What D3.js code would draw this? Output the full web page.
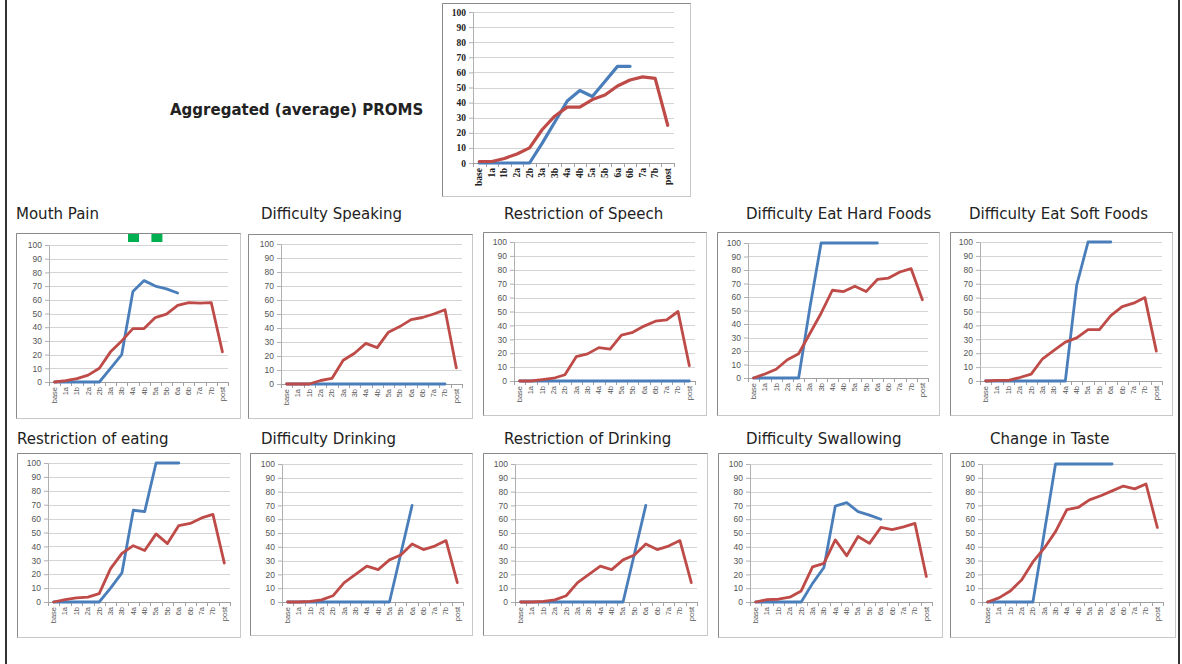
<!DOCTYPE html>
<html>
<head>
<meta charset="utf-8">
<script src="https://cdn.jsdelivr.net/npm/d3@7"></script>
<style>
  html, body { margin: 0; padding: 0; background: #ffffff; }
  svg { display: block; }
</style>
</head>
<body>
<svg id="chart" width="1182" height="664"></svg>
<script>
// ---------------- DATA ----------------
const categories = ["base","1a","1b","2a","2b","3a","3b","4a","4b","5a","5b","6a","6b","7a","7b","post"];
const yTicks = [0,10,20,30,40,50,60,70,80,90,100];

const aggregatedBlue = [0,0,0,0,0,13,27,41,48,44,54,64,64,null,null,null];
const aggregatedRed  = [1,1,3,6,10,22,31,37,37,42,45,51,55,57,56,25];

const mouthPainBlue = [0,0,0,0,0,10,20,66,74,70,68,65,null,null,null,null];
const mouthPainRed  = [0,1,2.5,5,10,22,30,39,39,47,49.5,56,58,57.5,58,22];

const speakingBlue = [0,0,0,0,0,0,0,0,0,0,0,0,0,0,0,null];
const speakingRed  = [0,0,0,2.5,4,17,22,29,26,37,41,46,47.5,50,53,11.5];

const speechRestrBlue = [0,0,0,0,0,0,0,0,0,0,0,0,0,0,0,0];
const speechRestrRed  = [0,0,1,2,4.5,17.5,19.5,24,23,33,35,39.5,43,44,50,11];

const hardFoodsBlue = [0,0,0,0,0,52,100,100,100,100,100,100,null,null,null,null];
const hardFoodsRed  = [0,3,6.5,13.5,18,33,48,65,64,68,64,73,74,78.5,81,58];

const softFoodsBlue = [0,0,0,0,0,0,0,0,69,100,100,100,null,null,null,null];
const softFoodsRed  = [0,0.5,0.5,2.5,5,16,22,28,31,37,37,47,53.5,56,60,21.5];

const eatingRestrBlue = [0,0,0,0,0,10,21,66,65,100,100,100,null,null,null,null];
const eatingRestrRed  = [0,1.7,3,3.5,6,24,35,40.5,37,49,42,55,56.5,60.5,63,28];

const drinkingBlue = [0,0,0,0,0,0,0,0,0,0,35,70,null,null,null,null];
const drinkingRed  = [0,0,0.5,1.5,4.5,14,20,26,23.5,30.5,34,42,38,40.5,44.5,14];

const drinkingRestrBlue = [0,0,0,0,0,0,0,0,0,0,35,70,null,null,null,null];
const drinkingRestrRed  = [0,0,0.5,1.5,4.5,14,20,26,23.5,30.5,34,42,38,40.5,44.5,14];

const swallowingBlue = [0,0,0,0,0,13.5,25,69.5,72,65.5,63,60,null,null,null,null];
const swallowingRed  = [0,1.7,2,3.5,8,25.5,28,45,33.5,47.5,42.5,54,52.5,54.5,57,18.5];

const tasteBlue = [0,0,0,0,0,50,100,100,100,100,100,100,null,null,null,null];
const tasteRed  = [0,3,8,16,29,39,51,67,68.5,74,77,80.5,84,82,85.5,54];

// ---------------- LAYOUT ----------------
const BLUE = "#4a7ebb", RED = "#be4b48";
const svg = d3.select("#chart");

// page side rules
svg.append("line").attr("x1",6).attr("x2",6).attr("y1",0).attr("y2",664).attr("stroke","#333").attr("stroke-width",2);
svg.append("line").attr("x1",1179).attr("x2",1179).attr("y1",0).attr("y2",664).attr("stroke","#333").attr("stroke-width",2);

const smallStyle = {
  tickFont: "'Liberation Sans', Arial, sans-serif", tickSize: 8.5, tickWeight: "normal", tickColor: "#555",
  xFont: "'Liberation Sans', Arial, sans-serif", xSize: 7.5, xWeight: "normal", xColor: "#555",
  lineWidth: 2.8
};
const bigStyle = {
  tickFont: "'Liberation Serif', 'Times New Roman', serif", tickSize: 9.5, tickWeight: "bold", tickColor: "#222",
  xFont: "'Liberation Serif', 'Times New Roman', serif", xSize: 9.5, xWeight: "bold", xColor: "#222",
  lineWidth: 3.2
};

const panels = [
  {title:"Aggregated (average) PROMS", tx:170, ty:115, bold:true,
   frame:[442,3,248,193], plot:{l:31,t:9,r:16,b:33}, blue:aggregatedBlue, red:aggregatedRed, style:bigStyle},
  {title:"Mouth Pain", tx:16, ty:219, frame:[16,233,224,185], plot:{l:33,t:12,r:12,b:36}, blue:mouthPainBlue, red:mouthPainRed, style:smallStyle, marks:true},
  {title:"Difficulty Speaking", tx:261, ty:219, frame:[248,234,224,184], plot:{l:33,t:10,r:10,b:34}, blue:speakingBlue, red:speakingRed, style:smallStyle},
  {title:"Restriction of Speech", tx:504, ty:219, frame:[483,232,223,183], plot:{l:31,t:10,r:11,b:34}, blue:speechRestrBlue, red:speechRestrRed, style:smallStyle},
  {title:"Difficulty Eat Hard Foods", tx:746, ty:219, frame:[717,232,222,183], plot:{l:31,t:11,r:11,b:37}, blue:hardFoodsBlue, red:hardFoodsRed, style:smallStyle},
  {title:"Difficulty Eat Soft Foods", tx:969, ty:219, frame:[950,232,222,183], plot:{l:30,t:10,r:10,b:34}, blue:softFoodsBlue, red:softFoodsRed, style:smallStyle},
  {title:"Restriction of eating", tx:17, ty:444, frame:[17,453,223,184], plot:{l:31,t:10,r:10,b:35}, blue:eatingRestrBlue, red:eatingRestrRed, style:smallStyle},
  {title:"Difficulty Drinking", tx:261, ty:444, frame:[250,453,222,182], plot:{l:32,t:11,r:9,b:33}, blue:drinkingBlue, red:drinkingRed, style:smallStyle},
  {title:"Restriction of Drinking", tx:504, ty:444, frame:[483,453,224,182], plot:{l:32,t:11,r:10,b:33}, blue:drinkingRestrBlue, red:drinkingRestrRed, style:smallStyle},
  {title:"Difficulty Swallowing", tx:746, ty:444, frame:[718,453,224,184], plot:{l:32,t:11,r:10,b:35}, blue:swallowingBlue, red:swallowingRed, style:smallStyle},
  {title:"Change in Taste", tx:990, ty:444, frame:[950,453,225,184], plot:{l:32,t:11,r:12,b:35}, blue:tasteBlue, red:tasteRed, style:smallStyle}
];

panels.forEach(p => {
  const [fx, fy, fw, fh] = p.frame;
  const st = p.style;

  // title
  svg.append("text")
    .attr("x", p.tx).attr("y", p.ty)
    .attr("font-family", "'DejaVu Sans', Verdana, sans-serif")
    .attr("font-size", 15)
    .attr("font-weight", p.bold ? "bold" : "normal")
    .attr("fill", "#222")
    .text(p.title);

  // frame
  svg.append("rect").attr("x", fx + 0.5).attr("y", fy + 0.5).attr("width", fw).attr("height", fh)
    .attr("fill", "#fff").attr("stroke", "#c8c8c8");
  svg.append("path")
    .attr("d", `M${fx+0.5},${fy+fh+0.5}V${fy+0.5}H${fx+fw+0.5}`)
    .attr("fill", "none").attr("stroke", "#8a8a8a");

  const g = svg.append("g").attr("transform", `translate(${fx + p.plot.l},${fy + p.plot.t})`);
  const w = fw - p.plot.l - p.plot.r;
  const h = fh - p.plot.t - p.plot.b;

  const x = d3.scaleBand().domain(categories).range([0, w]);
  const y = d3.scaleLinear().domain([0, 100]).range([h, 0]);

  // gridlines
  g.append("g").selectAll("line").data(yTicks.filter(t => t > 0)).join("line")
    .attr("x1", 0).attr("x2", w)
    .attr("y1", d => Math.round(y(d)) + 0.5).attr("y2", d => Math.round(y(d)) + 0.5)
    .attr("stroke", "#d4d4d4").attr("stroke-width", 1);

  // y axis
  const yAxis = g.append("g").call(d3.axisLeft(y).tickValues(yTicks).tickSize(4).tickPadding(3).tickSizeOuter(0));
  yAxis.select(".domain").attr("stroke", "#b0b0b0");
  yAxis.selectAll(".tick line").attr("stroke", "#b0b0b0");
  yAxis.selectAll("text")
    .attr("font-family", st.tickFont).attr("font-size", st.tickSize)
    .attr("font-weight", st.tickWeight).attr("fill", st.tickColor);

  // x axis
  const xAxis = g.append("g").attr("transform", `translate(0,${h})`)
    .call(d3.axisBottom(x).tickSize(0).tickPadding(4).tickSizeOuter(0));
  xAxis.select(".domain").attr("stroke", "#a0a0a0");
  xAxis.selectAll("text")
    .attr("font-family", st.xFont).attr("font-size", st.xSize)
    .attr("font-weight", st.xWeight).attr("fill", st.xColor)
    .attr("text-anchor", "end")
    .attr("dy", "0.32em")
    .attr("transform", "translate(0,3) rotate(-90)")
    .attr("x", -2).attr("y", 0);
  // tick marks at category boundaries
  const bounds = categories.map(c => x(c)).concat([w]);
  xAxis.append("g").selectAll("line").data(bounds).join("line")
    .attr("x1", d => Math.round(d) + 0.5).attr("x2", d => Math.round(d) + 0.5)
    .attr("y1", 0).attr("y2", 4).attr("stroke", "#a0a0a0");

  const line = d3.line()
    .defined(d => d != null)
    .x((d, i) => x(categories[i]) + x.bandwidth() / 2)
    .y(d => y(d));

  g.append("path").datum(p.blue).attr("d", line)
    .attr("fill", "none").attr("stroke", BLUE).attr("stroke-width", st.lineWidth)
    .attr("stroke-linejoin", "round").attr("stroke-linecap", "round");
  g.append("path").datum(p.red).attr("d", line)
    .attr("fill", "none").attr("stroke", RED).attr("stroke-width", st.lineWidth)
    .attr("stroke-linejoin", "round").attr("stroke-linecap", "round");

  if (p.marks) {
    // small green legend remnants shown at the top of this panel
    [0.5, 0.6].forEach(f => {
      svg.append("rect").attr("x", fx + fw * f + (f === 0.5 ? 0 : 1)).attr("y", fy + 1)
        .attr("width", 11).attr("height", 8).attr("fill", "#00b050");
    });
  }
});
</script>
</body>
</html>
